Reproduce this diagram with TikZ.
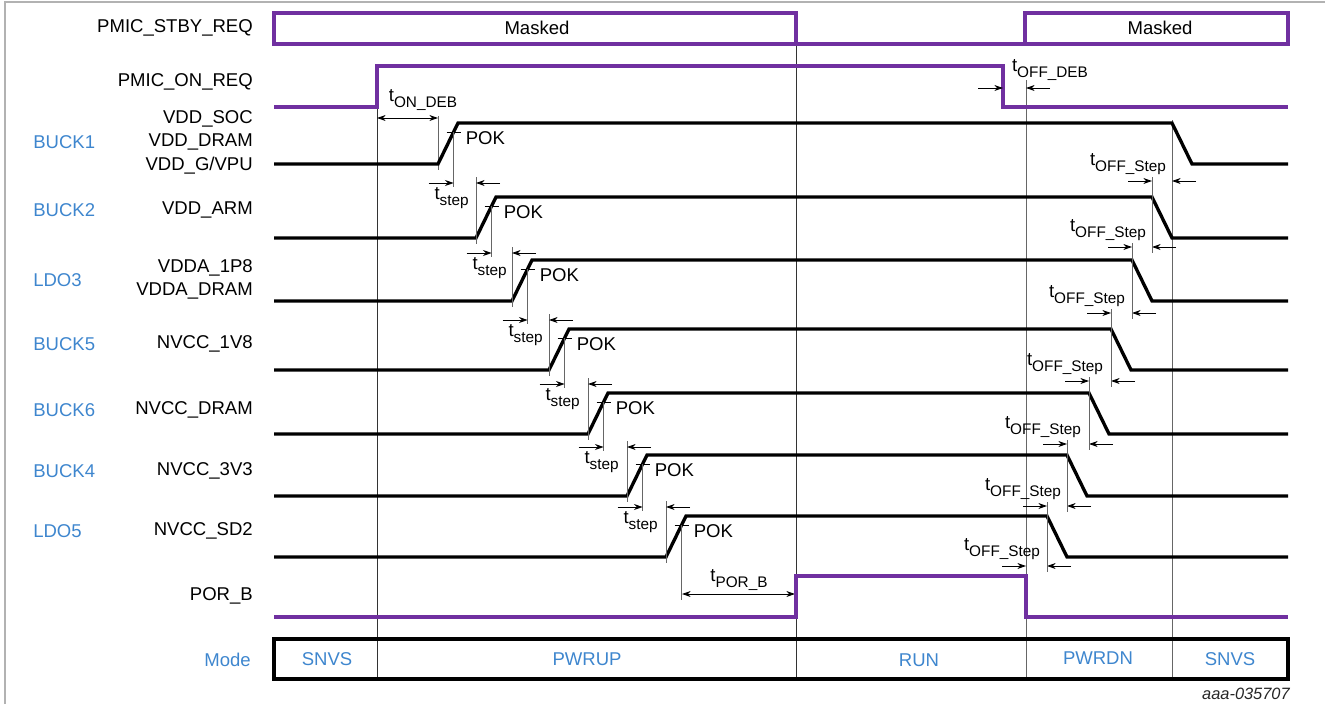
\documentclass[tikz,border=0pt]{standalone}
\usepackage{fontspec}
\setmainfont{Liberation Sans}
\usetikzlibrary{arrows.meta}
\definecolor{pmicpurple}{RGB}{112,48,160}
\definecolor{railblue}{RGB}{62,134,206}
\newcommand{\tsb}[1]{t\raisebox{-4pt}{\fontsize{11.5}{12}\selectfont #1}}
\begin{document}
\begin{tikzpicture}[x=0.75pt,y=-0.75pt,
  sig/.style={line width=2.5pt, line join=miter},
  psig/.style={line width=2.5pt, draw=pmicpurple},
  meas/.style={draw=black!60, line width=0.65pt},
  longline/.style={draw=black!80, line width=0.75pt},
  dimarrow/.style={line width=0.65pt, -{Stealth[length=6.5pt,width=4.5pt]}},
  ddimarrow/.style={line width=0.65pt, {Stealth[length=6.5pt,width=4.5pt]}-{Stealth[length=6.5pt,width=4.5pt]}},
  lbl/.style={font=\fontsize{13.9}{16}\selectfont, inner sep=0pt},
  blbl/.style={lbl, text=railblue},
  sublbl/.style={font=\fontsize{13.9}{16}\selectfont, inner sep=0pt}
]
\useasboundingbox (0,0) rectangle (1325,704);
% frame
\draw[black!30, line width=0.8pt] (5,704) -- (5,2) -- (1325,2);

% long vertical lines
\draw[longline] (377,66) -- (377,679);
\draw[longline] (796,44) -- (796,679);
\draw[meas] (1026,80) -- (1026,679);
\draw[meas] (1172,120) -- (1172,679);

% PMIC_STBY_REQ
\draw[psig] (274,13) rectangle (796,44);
\draw[psig] (796,44) -- (1025,44);
\draw[psig] (1025,13) rectangle (1288,44);
\node[lbl] (mask1) at (537,28) {Masked};
\node[lbl] (mask2) at (1160,28) {Masked};

% PMIC_ON_REQ
\draw[psig] (274,107) -- (377,107) -- (377,66) -- (1003,66) -- (1003,107) -- (1288,107);

% tON_DEB
\draw[ddimarrow] (377,118) -- (438,118);
\node[sublbl] (tondeb) at (423,100) {\tsb{ON\_DEB}};
\draw[meas] (438,116) -- (438,170);

% tOFF_DEB
\draw[dimarrow] (978,88) -- (1003,88);
\draw[dimarrow] (1050,88) -- (1026,88);
\node[sublbl] (toffdeb) at (1050,70) {\tsb{OFF\_DEB}};

% rails
\foreach \n/\rs/\hi/\lo/\fs in {1/438/123/164/1172, 2/476/197/238/1152, 3/512/260/301/1132, 4/549/329/370/1111, 5/588/393/434/1089, 6/627/455/496/1067, 7/666/516/557/1047}{
  \draw[sig] (274,\lo) -- (\rs,\lo) -- (\rs+20,\hi) -- (\fs,\hi) -- (\fs+20,\lo) -- (1288,\lo);
  \pgfmathsetmacro\px{\rs+20*(\lo-\hi-9)/(\lo-\hi)}
  \draw[line width=0.75pt] (\px-7,\hi+9) -- (\px+7,\hi+9);
  \node[lbl, anchor=west] (pok\n) at (\px+12,\hi+15) {POK};
}

% rise tstep measurements
\foreach \n/\rs/\hi/\lo/\ay/\rn/\ln in {1/438/123/164/183/476/238, 2/476/197/238/253/512/301, 3/512/260/301/320/549/370, 4/549/329/370/384/588/434, 5/588/393/434/447/627/496, 6/627/455/496/507/666/557}{
  \pgfmathsetmacro\px{\rs+20*(\lo-\hi-9)/(\lo-\hi)}
  \draw[meas] (\px,\hi+9) -- (\px,\ay+4);
  \draw[meas] (\rn,\ay-6) -- (\rn,\ln+6);
  \draw[dimarrow] (\px-25,\ay) -- (\px,\ay);
  \draw[dimarrow] (\rn+24,\ay) -- (\rn,\ay);
  \node[sublbl] (tstep\n) at (\px-2,\ay+15) {\tsb{step}};
}

% tPOR_B
\draw[meas] (681.6,525) -- (681.6,600);
\draw[ddimarrow] (682,594) -- (795,594);
\node[sublbl] (tporb) at (739,580) {\tsb{POR\_B}};

% fall tOFF_Step measurements
\foreach \n/\fu/\fl/\ay in {1/1172/1152/181, 2/1152/1132/247, 3/1132/1111/313, 4/1111/1089/381, 5/1089/1067/444, 6/1067/1047/506, 7/1047/1026/566}{
  \draw[dimarrow] (\fl-24,\ay) -- (\fl,\ay);
  \draw[dimarrow] (\fu+24,\ay) -- (\fu,\ay);
  \node[sublbl] (toff\n) at (\fl-24,\ay-17) {\tsb{OFF\_Step}};
}
\foreach \x/\ya/\yb in {1152/177/253, 1132/243/319, 1111/309/387, 1089/377/450, 1067/440/512, 1047/502/572}{
  \draw[meas] (\x,\ya) -- (\x,\yb);
}

% POR_B
\draw[psig] (274,617) -- (796,617) -- (796,576) -- (1026,576) -- (1026,617) -- (1288,617);

% Mode box
\draw[line width=2.5pt] (274,639) rectangle (1288,679);
\node[blbl] (m1) at (327,659) {SNVS};
\node[blbl] (m2) at (587,659) {PWRUP};
\node[blbl] (m3) at (919,660) {RUN};
\node[blbl] (m4) at (1098,658) {PWRDN};
\node[blbl] (m5) at (1230,659) {SNVS};

% signal names
\node[lbl, anchor=east] (s1) at (253,28) {PMIC\_STBY\_REQ};
\node[lbl, anchor=east] (s2) at (253,82) {PMIC\_ON\_REQ};
\node[lbl, anchor=east] (s3) at (253,119) {VDD\_SOC};
\node[lbl, anchor=east] (s4) at (253,142) {VDD\_DRAM};
\node[lbl, anchor=east] (s5) at (253,166) {VDD\_G/VPU};
\node[lbl, anchor=east] (s6) at (253,210) {VDD\_ARM};
\node[lbl, anchor=east] (s7) at (253,268) {VDDA\_1P8};
\node[lbl, anchor=east] (s8) at (253,291) {VDDA\_DRAM};
\node[lbl, anchor=east] (s9) at (253,344) {NVCC\_1V8};
\node[lbl, anchor=east] (s10) at (253,410) {NVCC\_DRAM};
\node[lbl, anchor=east] (s11) at (253,471) {NVCC\_3V3};
\node[lbl, anchor=east] (s12) at (253,531) {NVCC\_SD2};
\node[lbl, anchor=east] (s13) at (253,596) {POR\_B};
\node[blbl, anchor=east] (s14) at (251,660) {Mode};

% rail names
\node[blbl, anchor=west] (r1) at (33,142) {BUCK1};
\node[blbl, anchor=west] (r2) at (33,210) {BUCK2};
\node[blbl, anchor=west] (r3) at (33,280) {LDO3};
\node[blbl, anchor=west] (r4) at (33,344) {BUCK5};
\node[blbl, anchor=west] (r5) at (33,410) {BUCK6};
\node[blbl, anchor=west] (r6) at (33,471) {BUCK4};
\node[blbl, anchor=west] (r7) at (33,531) {LDO5};

% figure id
\node[font=\fontsize{12.3}{14}\selectfont\itshape, text=black!85, anchor=east, inner sep=0pt] (fid) at (1290,694) {aaa-035707};
\end{tikzpicture}
\end{document}
